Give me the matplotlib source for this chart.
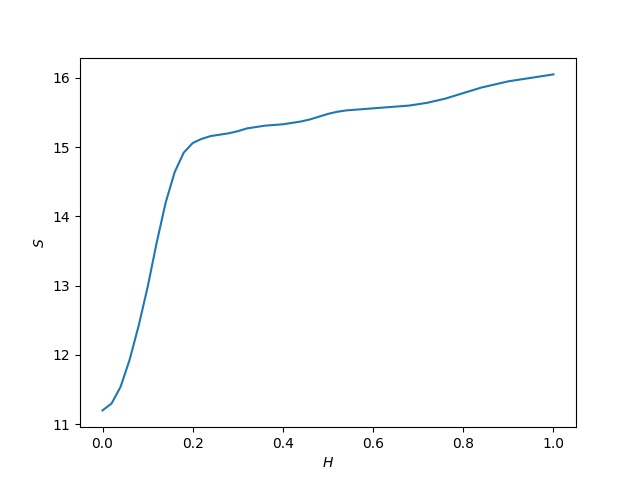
import matplotlib
matplotlib.use("Agg")
import matplotlib.pyplot as plt
import numpy as np

H = np.linspace(0, 1, 51)
S = [
    11.20, 11.30, 11.54, 11.93, 12.42, 12.98, 13.62, 14.20, 14.64, 14.92,
    15.06, 15.12, 15.16, 15.18, 15.20, 15.23, 15.27, 15.29, 15.31, 15.32,
    15.33, 15.35, 15.37, 15.40, 15.44, 15.48, 15.51, 15.53, 15.54, 15.55,
    15.56, 15.57, 15.58, 15.59, 15.60, 15.62, 15.64, 15.67, 15.70, 15.74,
    15.78, 15.82, 15.86, 15.89, 15.92, 15.95, 15.97, 15.99, 16.01, 16.03,
    16.05,
]

fig = plt.figure(figsize=(6.4, 4.8), dpi=100)
plt.plot(H, S)
plt.xlabel("$H$")
plt.ylabel("$S$")
plt.savefig("out.png")
